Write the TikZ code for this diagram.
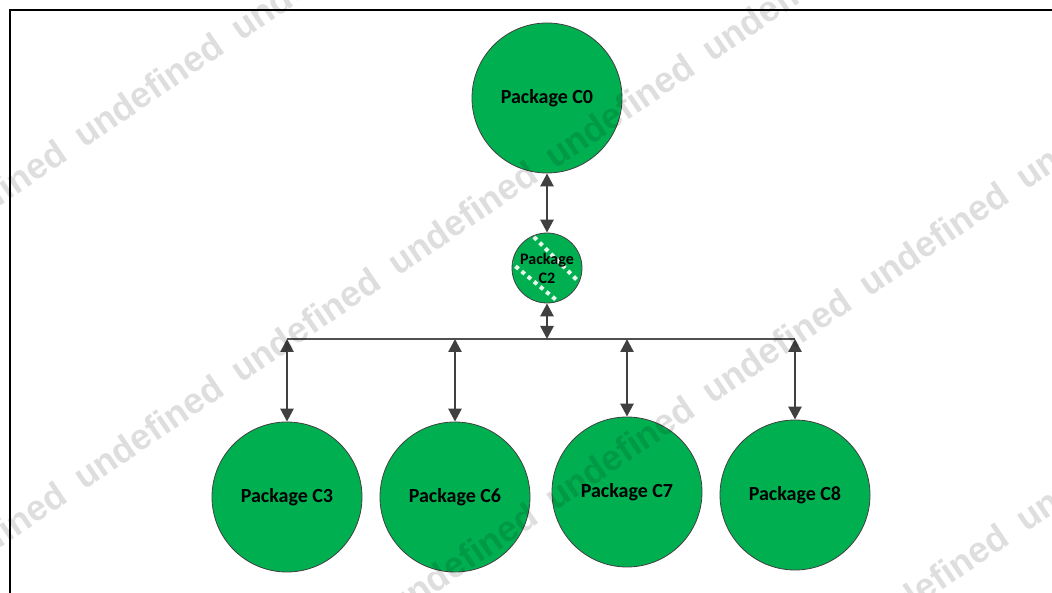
\documentclass[tikz,border=0pt]{standalone}
\usepackage{fontspec}
\setmainfont{Carlito}
\newfontfamily\wmfont{Liberation Sans}
\usetikzlibrary{arrows.meta}
\definecolor{pkggreen}{HTML}{00B050}
\definecolor{arrowgray}{HTML}{404040}
\definecolor{busgray}{HTML}{505050}
\begin{document}
\begin{tikzpicture}[x=1pt,y=-1pt,
  pkg/.style={circle, draw=arrowgray, line width=0.8pt, fill=pkggreen, minimum size=150pt, inner sep=0pt, font=\fontsize{20}{24}\selectfont\bfseries, text=black},
  pkgsmall/.style={pkg, minimum size=70pt, font=\fontsize{16}{19}\selectfont\bfseries, align=center},
  stripes/.style={draw=white, line width=4pt, dash pattern=on 4pt off 4pt, opacity=0.9},
  link/.style={draw=arrowgray, line width=2.6pt, {Triangle[length=13pt,width=13pt]}-{Triangle[length=13pt,width=13pt]}},
  bus/.style={draw=busgray, line width=2pt},
  frameline/.style={draw=black, line width=2.5pt},
  wm/.style={font=\wmfont\bfseries\fontsize{36}{40}\selectfont, text=black, opacity=0.13, rotate=34.3, anchor=base west, inner sep=0pt}
]
\useasboundingbox (0,0) rectangle (1052,593);
\clip (0,0) rectangle (1052,593);
\fill[white] (0,0) rectangle (1052,593);
% frame
\coordinate (fbl) at (10,600);
\coordinate (ftl) at (10,10);
\coordinate (ftr) at (1060,10);
\draw[frameline] (fbl) -- (ftl) -- (ftr);
% packages
\node[pkg] (c0) at (547,98) {Package C0};
\node[pkgsmall, path picture={
    \draw[stripes] ([shift={(-30,-48)}]path picture bounding box.center) -- ([shift={(45,27)}]path picture bounding box.center);
    \draw[stripes] ([shift={(-50,-17)}]path picture bounding box.center) -- ([shift={(25,45)}]path picture bounding box.center);
  }] (c2) at (547,268) {Package\\C2};
\node[pkg] (c3) at (287,497) {Package C3};
\node[pkg] (c6) at (455,497) {Package C6};
\node[pkg] (c7) at (627,492) {Package C7};
\node[pkg] (c8) at (795,495) {Package C8};
% bus
\coordinate (b2) at (547,339);
\coordinate (b3) at (287,339);
\coordinate (b6) at (455,339);
\coordinate (b7) at (627,339);
\coordinate (b8) at (795,339);
\draw[bus] (b3) -- (b8);
\draw[link] (c0.south) -- (c2.north);
\draw[link] (c2.south) -- (b2);
\draw[link] (b3) -- (c3.north);
\draw[link] (b6) -- (c6.north);
\draw[link] (b7) -- (c7.north);
\draw[link] (b8) -- (c8.north);
% watermark
\foreach \k in {-1,...,3}{
  \foreach \j in {-2,...,8}{
    \node[wm] (wm-\k-\j) at ({88+157*\j-3.7}, {135+342*\k-107*\j+14}) {undefined};
  }
}
\end{tikzpicture}
\end{document}
